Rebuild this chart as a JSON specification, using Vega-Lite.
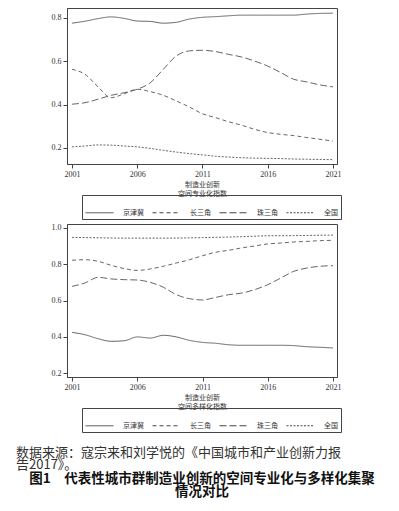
{
  "$schema": "https://vega.github.io/schema/vega-lite/v6.json",
  "padding": {"left": 15, "top": 7, "right": 5, "bottom": 5},
  "background": "white",
  "bounds": "flush",
  "spacing": 60,
  "config": {
    "view": {"stroke": "#444", "strokeWidth": 1},
    "axis": {
      "labelFont": "Liberation Serif", "labelFontSize": 8, "labelColor": "#333",
      "domainColor": "#444", "tickColor": "#444", "tickSize": 4, "labelPadding": 2,
      "grid": false, "titleFont": "Noto Sans CJK SC", "titleFontSize": 7,
      "titleFontWeight": "normal", "titleColor": "#333", "titleLineHeight": 9, "titlePadding": 2
    },
    "legend": {
      "labelFont": "Noto Sans CJK SC", "labelFontSize": 7, "labelColor": "#333"
    }
  },
  "datasets": {
    "spec": [
      {"region": "京津冀", "year": 2001, "value": 0.776},
      {"region": "京津冀", "year": 2002, "value": 0.785},
      {"region": "京津冀", "year": 2003, "value": 0.797},
      {"region": "京津冀", "year": 2004, "value": 0.805},
      {"region": "京津冀", "year": 2005, "value": 0.798},
      {"region": "京津冀", "year": 2006, "value": 0.786},
      {"region": "京津冀", "year": 2007, "value": 0.784},
      {"region": "京津冀", "year": 2008, "value": 0.776},
      {"region": "京津冀", "year": 2009, "value": 0.780},
      {"region": "京津冀", "year": 2010, "value": 0.795},
      {"region": "京津冀", "year": 2011, "value": 0.803},
      {"region": "京津冀", "year": 2012, "value": 0.806},
      {"region": "京津冀", "year": 2013, "value": 0.810},
      {"region": "京津冀", "year": 2014, "value": 0.813},
      {"region": "京津冀", "year": 2015, "value": 0.813},
      {"region": "京津冀", "year": 2016, "value": 0.813},
      {"region": "京津冀", "year": 2017, "value": 0.813},
      {"region": "京津冀", "year": 2018, "value": 0.813},
      {"region": "京津冀", "year": 2019, "value": 0.818},
      {"region": "京津冀", "year": 2020, "value": 0.821},
      {"region": "京津冀", "year": 2021, "value": 0.822},
      {"region": "长三角", "year": 2001, "value": 0.563},
      {"region": "长三角", "year": 2002, "value": 0.540},
      {"region": "长三角", "year": 2003, "value": 0.482},
      {"region": "长三角", "year": 2004, "value": 0.432},
      {"region": "长三角", "year": 2005, "value": 0.450},
      {"region": "长三角", "year": 2006, "value": 0.471},
      {"region": "长三角", "year": 2007, "value": 0.460},
      {"region": "长三角", "year": 2008, "value": 0.443},
      {"region": "长三角", "year": 2009, "value": 0.417},
      {"region": "长三角", "year": 2010, "value": 0.389},
      {"region": "长三角", "year": 2011, "value": 0.358},
      {"region": "长三角", "year": 2012, "value": 0.340},
      {"region": "长三角", "year": 2013, "value": 0.321},
      {"region": "长三角", "year": 2014, "value": 0.305},
      {"region": "长三角", "year": 2015, "value": 0.286},
      {"region": "长三角", "year": 2016, "value": 0.271},
      {"region": "长三角", "year": 2017, "value": 0.263},
      {"region": "长三角", "year": 2018, "value": 0.257},
      {"region": "长三角", "year": 2019, "value": 0.248},
      {"region": "长三角", "year": 2020, "value": 0.240},
      {"region": "长三角", "year": 2021, "value": 0.232},
      {"region": "珠三角", "year": 2001, "value": 0.402},
      {"region": "珠三角", "year": 2002, "value": 0.409},
      {"region": "珠三角", "year": 2003, "value": 0.425},
      {"region": "珠三角", "year": 2004, "value": 0.443},
      {"region": "珠三角", "year": 2005, "value": 0.455},
      {"region": "珠三角", "year": 2006, "value": 0.471},
      {"region": "珠三角", "year": 2007, "value": 0.501},
      {"region": "珠三角", "year": 2008, "value": 0.563},
      {"region": "珠三角", "year": 2009, "value": 0.625},
      {"region": "珠三角", "year": 2010, "value": 0.648},
      {"region": "珠三角", "year": 2011, "value": 0.651},
      {"region": "珠三角", "year": 2012, "value": 0.645},
      {"region": "珠三角", "year": 2013, "value": 0.632},
      {"region": "珠三角", "year": 2014, "value": 0.620},
      {"region": "珠三角", "year": 2015, "value": 0.601},
      {"region": "珠三角", "year": 2016, "value": 0.578},
      {"region": "珠三角", "year": 2017, "value": 0.548},
      {"region": "珠三角", "year": 2018, "value": 0.517},
      {"region": "珠三角", "year": 2019, "value": 0.505},
      {"region": "珠三角", "year": 2020, "value": 0.491},
      {"region": "珠三角", "year": 2021, "value": 0.482},
      {"region": "全国", "year": 2001, "value": 0.205},
      {"region": "全国", "year": 2002, "value": 0.209},
      {"region": "全国", "year": 2003, "value": 0.214},
      {"region": "全国", "year": 2004, "value": 0.213},
      {"region": "全国", "year": 2005, "value": 0.209},
      {"region": "全国", "year": 2006, "value": 0.205},
      {"region": "全国", "year": 2007, "value": 0.198},
      {"region": "全国", "year": 2008, "value": 0.189},
      {"region": "全国", "year": 2009, "value": 0.181},
      {"region": "全国", "year": 2010, "value": 0.174},
      {"region": "全国", "year": 2011, "value": 0.168},
      {"region": "全国", "year": 2012, "value": 0.162},
      {"region": "全国", "year": 2013, "value": 0.158},
      {"region": "全国", "year": 2014, "value": 0.155},
      {"region": "全国", "year": 2015, "value": 0.153},
      {"region": "全国", "year": 2016, "value": 0.152},
      {"region": "全国", "year": 2017, "value": 0.151},
      {"region": "全国", "year": 2018, "value": 0.149},
      {"region": "全国", "year": 2019, "value": 0.148},
      {"region": "全国", "year": 2020, "value": 0.147},
      {"region": "全国", "year": 2021, "value": 0.146}
    ],
    "div": [
      {"region": "京津冀", "year": 2001, "value": 0.424},
      {"region": "京津冀", "year": 2002, "value": 0.411},
      {"region": "京津冀", "year": 2003, "value": 0.389},
      {"region": "京津冀", "year": 2004, "value": 0.375},
      {"region": "京津冀", "year": 2005, "value": 0.378},
      {"region": "京津冀", "year": 2006, "value": 0.399},
      {"region": "京津冀", "year": 2007, "value": 0.393},
      {"region": "京津冀", "year": 2008, "value": 0.408},
      {"region": "京津冀", "year": 2009, "value": 0.399},
      {"region": "京津冀", "year": 2010, "value": 0.380},
      {"region": "京津冀", "year": 2011, "value": 0.369},
      {"region": "京津冀", "year": 2012, "value": 0.364},
      {"region": "京津冀", "year": 2013, "value": 0.356},
      {"region": "京津冀", "year": 2014, "value": 0.353},
      {"region": "京津冀", "year": 2015, "value": 0.353},
      {"region": "京津冀", "year": 2016, "value": 0.353},
      {"region": "京津冀", "year": 2017, "value": 0.353},
      {"region": "京津冀", "year": 2018, "value": 0.351},
      {"region": "京津冀", "year": 2019, "value": 0.345},
      {"region": "京津冀", "year": 2020, "value": 0.342},
      {"region": "京津冀", "year": 2021, "value": 0.338},
      {"region": "长三角", "year": 2001, "value": 0.822},
      {"region": "长三角", "year": 2002, "value": 0.825},
      {"region": "长三角", "year": 2003, "value": 0.816},
      {"region": "长三角", "year": 2004, "value": 0.794},
      {"region": "长三角", "year": 2005, "value": 0.776},
      {"region": "长三角", "year": 2006, "value": 0.766},
      {"region": "长三角", "year": 2007, "value": 0.774},
      {"region": "长三角", "year": 2008, "value": 0.789},
      {"region": "长三角", "year": 2009, "value": 0.807},
      {"region": "长三角", "year": 2010, "value": 0.825},
      {"region": "长三角", "year": 2011, "value": 0.847},
      {"region": "长三角", "year": 2012, "value": 0.866},
      {"region": "长三角", "year": 2013, "value": 0.877},
      {"region": "长三角", "year": 2014, "value": 0.890},
      {"region": "长三角", "year": 2015, "value": 0.901},
      {"region": "长三角", "year": 2016, "value": 0.912},
      {"region": "长三角", "year": 2017, "value": 0.917},
      {"region": "长三角", "year": 2018, "value": 0.923},
      {"region": "长三角", "year": 2019, "value": 0.926},
      {"region": "长三角", "year": 2020, "value": 0.930},
      {"region": "长三角", "year": 2021, "value": 0.932},
      {"region": "珠三角", "year": 2001, "value": 0.678},
      {"region": "珠三角", "year": 2002, "value": 0.697},
      {"region": "珠三角", "year": 2003, "value": 0.728},
      {"region": "珠三角", "year": 2004, "value": 0.719},
      {"region": "珠三角", "year": 2005, "value": 0.715},
      {"region": "珠三角", "year": 2006, "value": 0.713},
      {"region": "珠三角", "year": 2007, "value": 0.700},
      {"region": "珠三角", "year": 2008, "value": 0.673},
      {"region": "珠三角", "year": 2009, "value": 0.632},
      {"region": "珠三角", "year": 2010, "value": 0.610},
      {"region": "珠三角", "year": 2011, "value": 0.603},
      {"region": "珠三角", "year": 2012, "value": 0.617},
      {"region": "珠三角", "year": 2013, "value": 0.632},
      {"region": "珠三角", "year": 2014, "value": 0.641},
      {"region": "珠三角", "year": 2015, "value": 0.660},
      {"region": "珠三角", "year": 2016, "value": 0.687},
      {"region": "珠三角", "year": 2017, "value": 0.724},
      {"region": "珠三角", "year": 2018, "value": 0.761},
      {"region": "珠三角", "year": 2019, "value": 0.779},
      {"region": "珠三角", "year": 2020, "value": 0.789},
      {"region": "珠三角", "year": 2021, "value": 0.792},
      {"region": "全国", "year": 2001, "value": 0.948},
      {"region": "全国", "year": 2003, "value": 0.946},
      {"region": "全国", "year": 2005, "value": 0.944},
      {"region": "全国", "year": 2008, "value": 0.944},
      {"region": "全国", "year": 2011, "value": 0.947},
      {"region": "全国", "year": 2014, "value": 0.952},
      {"region": "全国", "year": 2016, "value": 0.957},
      {"region": "全国", "year": 2018, "value": 0.958},
      {"region": "全国", "year": 2021, "value": 0.961}
    ]
  },
  "title": {
    "text": ["图1　代表性城市群制造业创新的空间专业化与多样化集聚", "情况对比"],
    "orient": "bottom", "anchor": "middle", "frame": "group",
    "font": "Noto Sans CJK SC", "fontSize": 13.5, "fontWeight": "bold",
    "color": "#111", "lineHeight": 12.5, "offset": 0
  },
  "vconcat": [
    {
      "width": 270, "height": 156,
      "data": {"name": "spec"},
      "mark": {"type": "line", "interpolate": "monotone", "strokeWidth": 0.9, "color": "#555"},
      "encoding": {
        "x": {"field": "year", "type": "quantitative",
              "scale": {"domain": [2000.62, 2021.31], "nice": false, "zero": false},
              "axis": {"values": [2001, 2006, 2011, 2016, 2021], "format": "d",
                       "title": ["制造业创新", "空间专业化指数"]}},
        "y": {"field": "value", "type": "quantitative",
              "scale": {"domain": [0.126, 0.846], "nice": false, "zero": false},
              "axis": {"values": [0.2, 0.4, 0.6, 0.8], "format": ".1f", "title": null}},
        "strokeDash": {"field": "region", "type": "nominal",
              "scale": {"domain": ["京津冀", "长三角", "珠三角", "全国"],
                        "range": [[1, 0], [4, 3], [7, 3], [2, 1.5]]},
              "legend": {"title": null, "orient": "none", "legendX": 15, "legendY": 187,
                         "direction": "horizontal", "columns": 4,
                         "strokeColor": "#444", "padding": 3,
                         "symbolType": "stroke", "symbolSize": 784, "symbolStrokeWidth": 1,
                         "symbolStrokeColor": "#444", "labelOffset": 9, "columnPadding": 6}}
      }
    },
    {
      "width": 270, "height": 153,
      "data": {"name": "div"},
      "title": {
        "text": ["　　数据来源：寇宗来和刘学悦的《中国城市和产业创新力报", "告2017》。"],
        "orient": "bottom", "anchor": "start", "frame": "group", "align": "left",
        "dx": -51, "offset": 14,
        "font": "Noto Sans CJK SC", "fontSize": 13, "fontWeight": "normal",
        "color": "#333", "lineHeight": 12
      },
      "mark": {"type": "line", "interpolate": "monotone", "strokeWidth": 0.9, "color": "#555"},
      "encoding": {
        "x": {"field": "year", "type": "quantitative",
              "scale": {"domain": [2000.61, 2021.31], "nice": false, "zero": false},
              "axis": {"values": [2001, 2006, 2011, 2016, 2021], "format": "d",
                       "title": ["制造业创新", "空间多样化指数"]}},
        "y": {"field": "value", "type": "quantitative",
              "scale": {"domain": [0.178, 1.022], "nice": false, "zero": false},
              "axis": {"values": [0.2, 0.4, 0.6, 0.8, 1.0], "format": ".1f", "title": null}},
        "strokeDash": {"field": "region", "type": "nominal",
              "scale": {"domain": ["京津冀", "长三角", "珠三角", "全国"],
                        "range": [[1, 0], [4, 3], [7, 3], [2, 1.5]]},
              "legend": {"title": null, "orient": "none", "legendX": 15, "legendY": 184,
                         "direction": "horizontal", "columns": 4,
                         "strokeColor": "#444", "padding": 3,
                         "symbolType": "stroke", "symbolSize": 784, "symbolStrokeWidth": 1,
                         "symbolStrokeColor": "#444", "labelOffset": 9, "columnPadding": 6}}
      }
    }
  ],
  "resolve": {"scale": {"strokeDash": "independent"}, "legend": {"strokeDash": "independent"}}
}
